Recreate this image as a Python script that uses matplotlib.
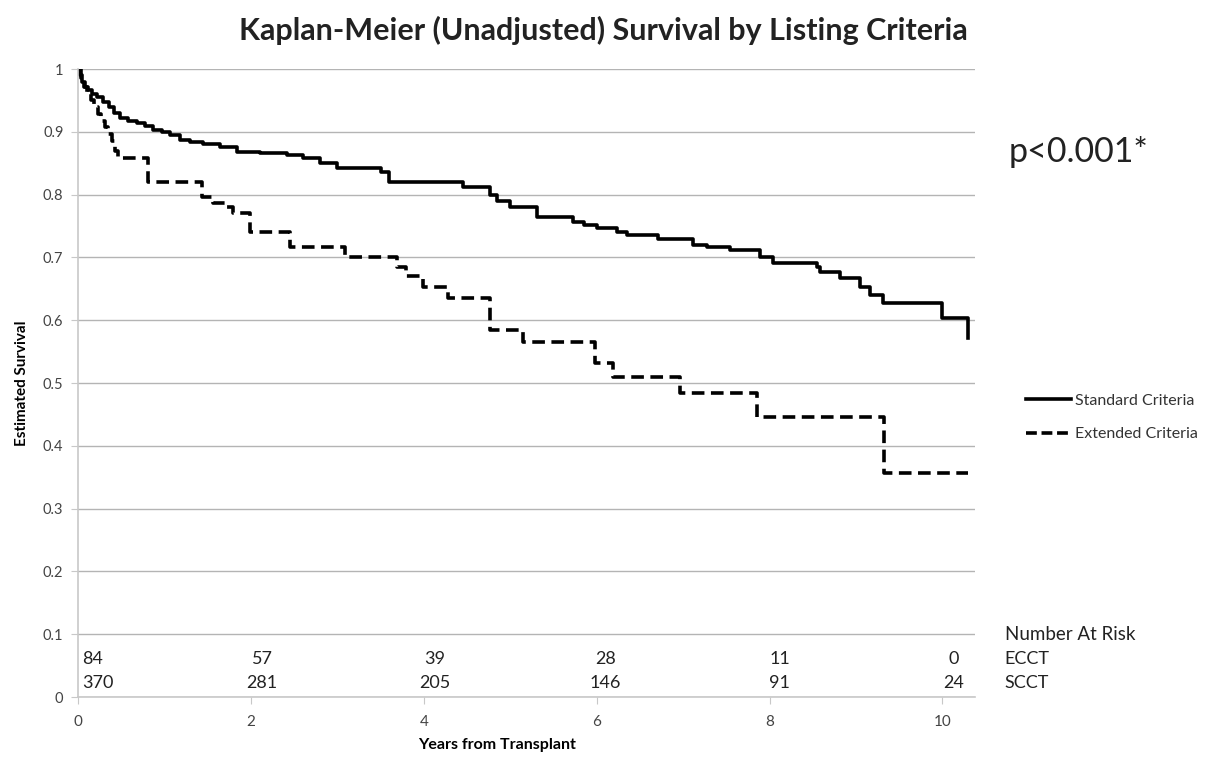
import numpy as np
import matplotlib
matplotlib.use('Agg')
import matplotlib.pyplot as plt
from matplotlib.lines import Line2D

plt.rcParams['font.family'] = ['Lato', 'DejaVu Sans']

# Kaplan-Meier step data (years, survival)
std_t = [0, 0.02, 0.05, 0.08, 0.12, 0.16, 0.22, 0.29, 0.36, 0.42, 0.49, 0.58, 0.68, 0.78, 0.87,
         0.97, 1.06, 1.18, 1.3, 1.45, 1.64, 1.84, 2.1, 2.42, 2.6,
         2.8, 3.0, 3.2, 3.5, 3.6, 4.45, 4.5, 4.77, 4.85, 5.0, 5.31, 5.73, 5.85, 6.0, 6.23, 6.35,
         6.71, 7.12, 7.28, 7.54, 7.89, 8.04, 8.55, 8.58, 8.81, 9.05, 9.16, 9.31, 9.99, 10.3]
std_s = [1.0, 0.99, 0.98, 0.972, 0.966, 0.961, 0.955, 0.948, 0.94, 0.93, 0.922, 0.918, 0.914, 0.909, 0.903,
         0.899, 0.895, 0.887, 0.884, 0.88, 0.876, 0.868, 0.866, 0.863, 0.858,
         0.85, 0.843, 0.842, 0.836, 0.82, 0.812, 0.812, 0.80, 0.79, 0.78, 0.764, 0.756, 0.752, 0.747, 0.74, 0.736,
         0.729, 0.72, 0.716, 0.712, 0.70, 0.691, 0.684, 0.677, 0.667, 0.653, 0.64, 0.627, 0.604, 0.572]

ext_t = [0, 0.03, 0.07, 0.11, 0.15, 0.19, 0.23, 0.27, 0.31, 0.35, 0.39, 0.43, 0.46, 0.81, 1.43,
         1.56, 1.7, 1.79, 1.99, 2.45, 3.09, 3.69,
         3.8, 3.99, 4.28, 4.77, 5.15, 5.98, 6.19, 6.96, 7.85, 9.33, 10.3]
ext_s = [1.0, 0.985, 0.972, 0.96, 0.95, 0.94, 0.928, 0.918, 0.908, 0.897, 0.885, 0.87, 0.858, 0.82, 0.796,
         0.787, 0.78, 0.771, 0.74, 0.716, 0.70, 0.685,
         0.67, 0.653, 0.635, 0.584, 0.565, 0.532, 0.51, 0.484, 0.446, 0.357, 0.357]

# number at risk
risk_x = [0, 2, 4, 6, 8, 10]
ecct_risk = [84, 57, 39, 28, 11, 0]
scct_risk = [370, 281, 205, 146, 91, 24]

fig = plt.figure(figsize=(12.07, 7.62), dpi=100)
ax = fig.add_axes([0.0646, 0.0853, 0.7434, 0.8241])

ax.step(std_t, std_s, where='post', color='black', lw=2.6)
ax.step(ext_t, ext_s, where='post', color='black', lw=2.6, linestyle=(0, (3.5, 1.8)))

ax.set_xlim(0, 10.38)
ax.set_ylim(0, 1)
ax.set_yticks(np.arange(0, 1.01, 0.1))
ax.set_yticklabels(['0', '0.1', '0.2', '0.3', '0.4', '0.5', '0.6', '0.7', '0.8', '0.9', '1'])
ax.set_xticks([0, 2, 4, 6, 8, 10])
ax.grid(axis='y', color='#b4b4b4', lw=1.0)
ax.set_axisbelow(True)
for s in ['top', 'right']:
    ax.spines[s].set_visible(False)
ax.spines['left'].set_color('#c8c8c8')
ax.spines['bottom'].set_color('#c8c8c8')
ax.spines['left'].set_linewidth(1.2)
ax.spines['bottom'].set_linewidth(1.2)
ax.tick_params(axis='y', length=5, color='#c8c8c8', labelsize=10.5, pad=5.5, labelcolor='#444444')
ax.tick_params(axis='x', length=5, color='#c8c8c8', labelsize=11, pad=8, labelcolor='#444444')

ax.set_ylabel('Estimated Survival', fontsize=11, fontweight='bold')
ax.yaxis.set_label_coords(-0.055, 0.5)
ax.set_xlabel('Years from Transplant', fontsize=11.5, fontweight='bold')
ax.xaxis.set_label_coords(0.467, -0.066)

fig.text(0.5, 0.96, 'Kaplan-Meier (Unadjusted) Survival by Listing Criteria',
         ha='center', va='center', fontsize=22, fontweight='bold', color='#222222')
fig.text(0.836, 0.80, 'p<0.001*', ha='left', va='center', fontsize=24.5, color='#222222')

# number at risk table
risk_pos = [0.05, 2.13, 4.13, 6.1, 8.12, 10.13]
for x, e, s in zip(risk_pos, ecct_risk, scct_risk):
    ha = 'left' if x < 1 else 'center'
    ax.text(x, 0.06, str(e), ha=ha, va='center', fontsize=13, color='#222222')
    ax.text(x, 0.023, str(s), ha=ha, va='center', fontsize=13, color='#222222')
ax.text(10.72, 0.1, 'Number At Risk', ha='left', va='center', fontsize=13.5, color='#222222', clip_on=False)
ax.text(10.72, 0.06, 'ECCT', ha='left', va='center', fontsize=13, color='#222222', clip_on=False)
ax.text(10.72, 0.023, 'SCCT', ha='left', va='center', fontsize=13, color='#222222', clip_on=False)

handles = [Line2D([], [], color='black', lw=2.6),
           Line2D([], [], color='black', lw=2.6, linestyle=(0, (3.0, 1.3)))]
fig.legend(handles, ['Standard Criteria', 'Extended Criteria'], loc='upper left',
           bbox_to_anchor=(0.838, 0.502), frameon=False, fontsize=11.5, handlelength=2.8,
           handletextpad=0.3, labelspacing=1.2, labelcolor='#333333')

fig.savefig('out.png', dpi=100)
